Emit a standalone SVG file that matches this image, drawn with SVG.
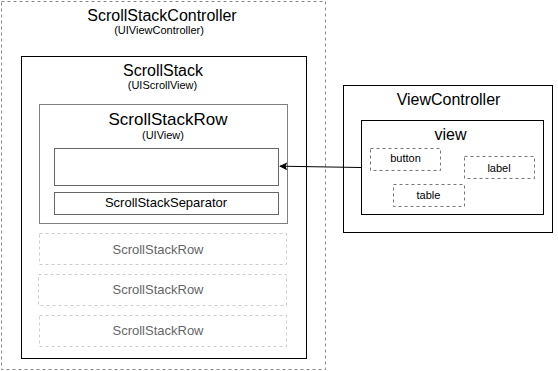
<svg xmlns="http://www.w3.org/2000/svg" width="558" height="371" viewBox="0 0 558 371">
  <style>
    text { font-family: "Liberation Sans", Arial, Helvetica, sans-serif; fill: #000; text-anchor: middle; }
    .frame { fill: none; stroke: #888; stroke-width: 1; stroke-dasharray: 3 3; }
    .solid { fill: #fff; stroke: #000; stroke-width: 1; }
    .row { fill: #fff; stroke: #808080; stroke-width: 1; }
    .sub { fill: #fff; stroke: #666; stroke-width: 1; }
    .ghost { fill: none; stroke: #ccc; stroke-width: 1; stroke-dasharray: 3 3; }
    .ghost-text { fill: #666; font-size: 13px; }
    .item { fill: none; stroke: #777; stroke-width: 1; stroke-dasharray: 3 3; }
    .t16 { font-size: 16px; }
    .t17 { font-size: 17px; }
    .t13 { font-size: 13px; }
    .t11 { font-size: 11px; }
    .link { fill: none; stroke: #000; stroke-width: 1; }
  </style>
  <defs>
    <marker id="arrow" viewBox="0 0 10 10" refX="9" refY="5" markerWidth="8" markerHeight="8" markerUnits="userSpaceOnUse" orient="auto">
      <path d="M0,0 L10,5 L0,10 L2,5 Z" fill="#000"/>
    </marker>
  </defs>

  <rect width="558" height="371" fill="#fff"/>

  <!-- Controller container -->
  <g id="scroll-stack-controller">
    <rect class="frame" x="1.5" y="1.5" width="324" height="368"/>
    <text class="t16" x="162" y="20.5">ScrollStackController</text>
    <text class="t11" x="159" y="34">(UIViewController)</text>
  </g>

  <g id="scroll-stack">
    <rect class="solid" x="21.5" y="56.5" width="285" height="302"/>
    <text class="t16" x="163" y="75.5">ScrollStack</text>
    <text class="t11" x="162.5" y="89">(UIScrollView)</text>
  </g>

  <g id="scroll-stack-row">
    <rect class="row" x="39.5" y="104.5" width="248" height="119"/>
    <text class="t17" x="168" y="124.5">ScrollStackRow</text>
    <text class="t11" x="163" y="139">(UIView)</text>
  </g>

  <g id="row-content">
    <rect class="sub" x="54.5" y="148.5" width="224" height="37"/>
  </g>

  <g id="row-separator">
    <rect class="sub" x="54.5" y="192.5" width="224" height="22"/>
    <text class="t13" x="166" y="207">ScrollStackSeparator</text>
  </g>

  <g id="ghost-row-1">
    <rect class="ghost" x="39.5" y="233.5" width="247" height="31"/>
    <text class="ghost-text" x="158" y="254">ScrollStackRow</text>
  </g>
  <g id="ghost-row-2">
    <rect class="ghost" x="38.5" y="274.5" width="248" height="31"/>
    <text class="ghost-text" x="158" y="293.5">ScrollStackRow</text>
  </g>
  <g id="ghost-row-3">
    <rect class="ghost" x="39.5" y="315.5" width="247" height="31"/>
    <text class="ghost-text" x="158" y="335">ScrollStackRow</text>
  </g>

  <!-- Hosted view controller -->
  <g id="view-controller">
    <rect class="solid" x="343.5" y="85.5" width="209" height="147"/>
    <text class="t16" x="448.5" y="104.5">ViewController</text>
  </g>

  <g id="view">
    <rect class="solid" x="361.5" y="120.5" width="182" height="94"/>
    <text class="t16" x="450.5" y="140">view</text>
  </g>

  <g id="button">
    <rect class="item" x="370.5" y="148.5" width="70" height="22"/>
    <text class="t11" x="405.5" y="162">button</text>
  </g>
  <g id="label">
    <rect class="item" x="464.5" y="156.5" width="70" height="22"/>
    <text class="t11" x="499" y="172">label</text>
  </g>
  <g id="table">
    <rect class="item" x="393.5" y="184.5" width="71" height="22"/>
    <text class="t11" x="428.5" y="199">table</text>
  </g>

  <g id="connectors">
    <path class="link" d="M361,167.5 L280,166.2" marker-end="url(#arrow)"/>
  </g>
</svg>
